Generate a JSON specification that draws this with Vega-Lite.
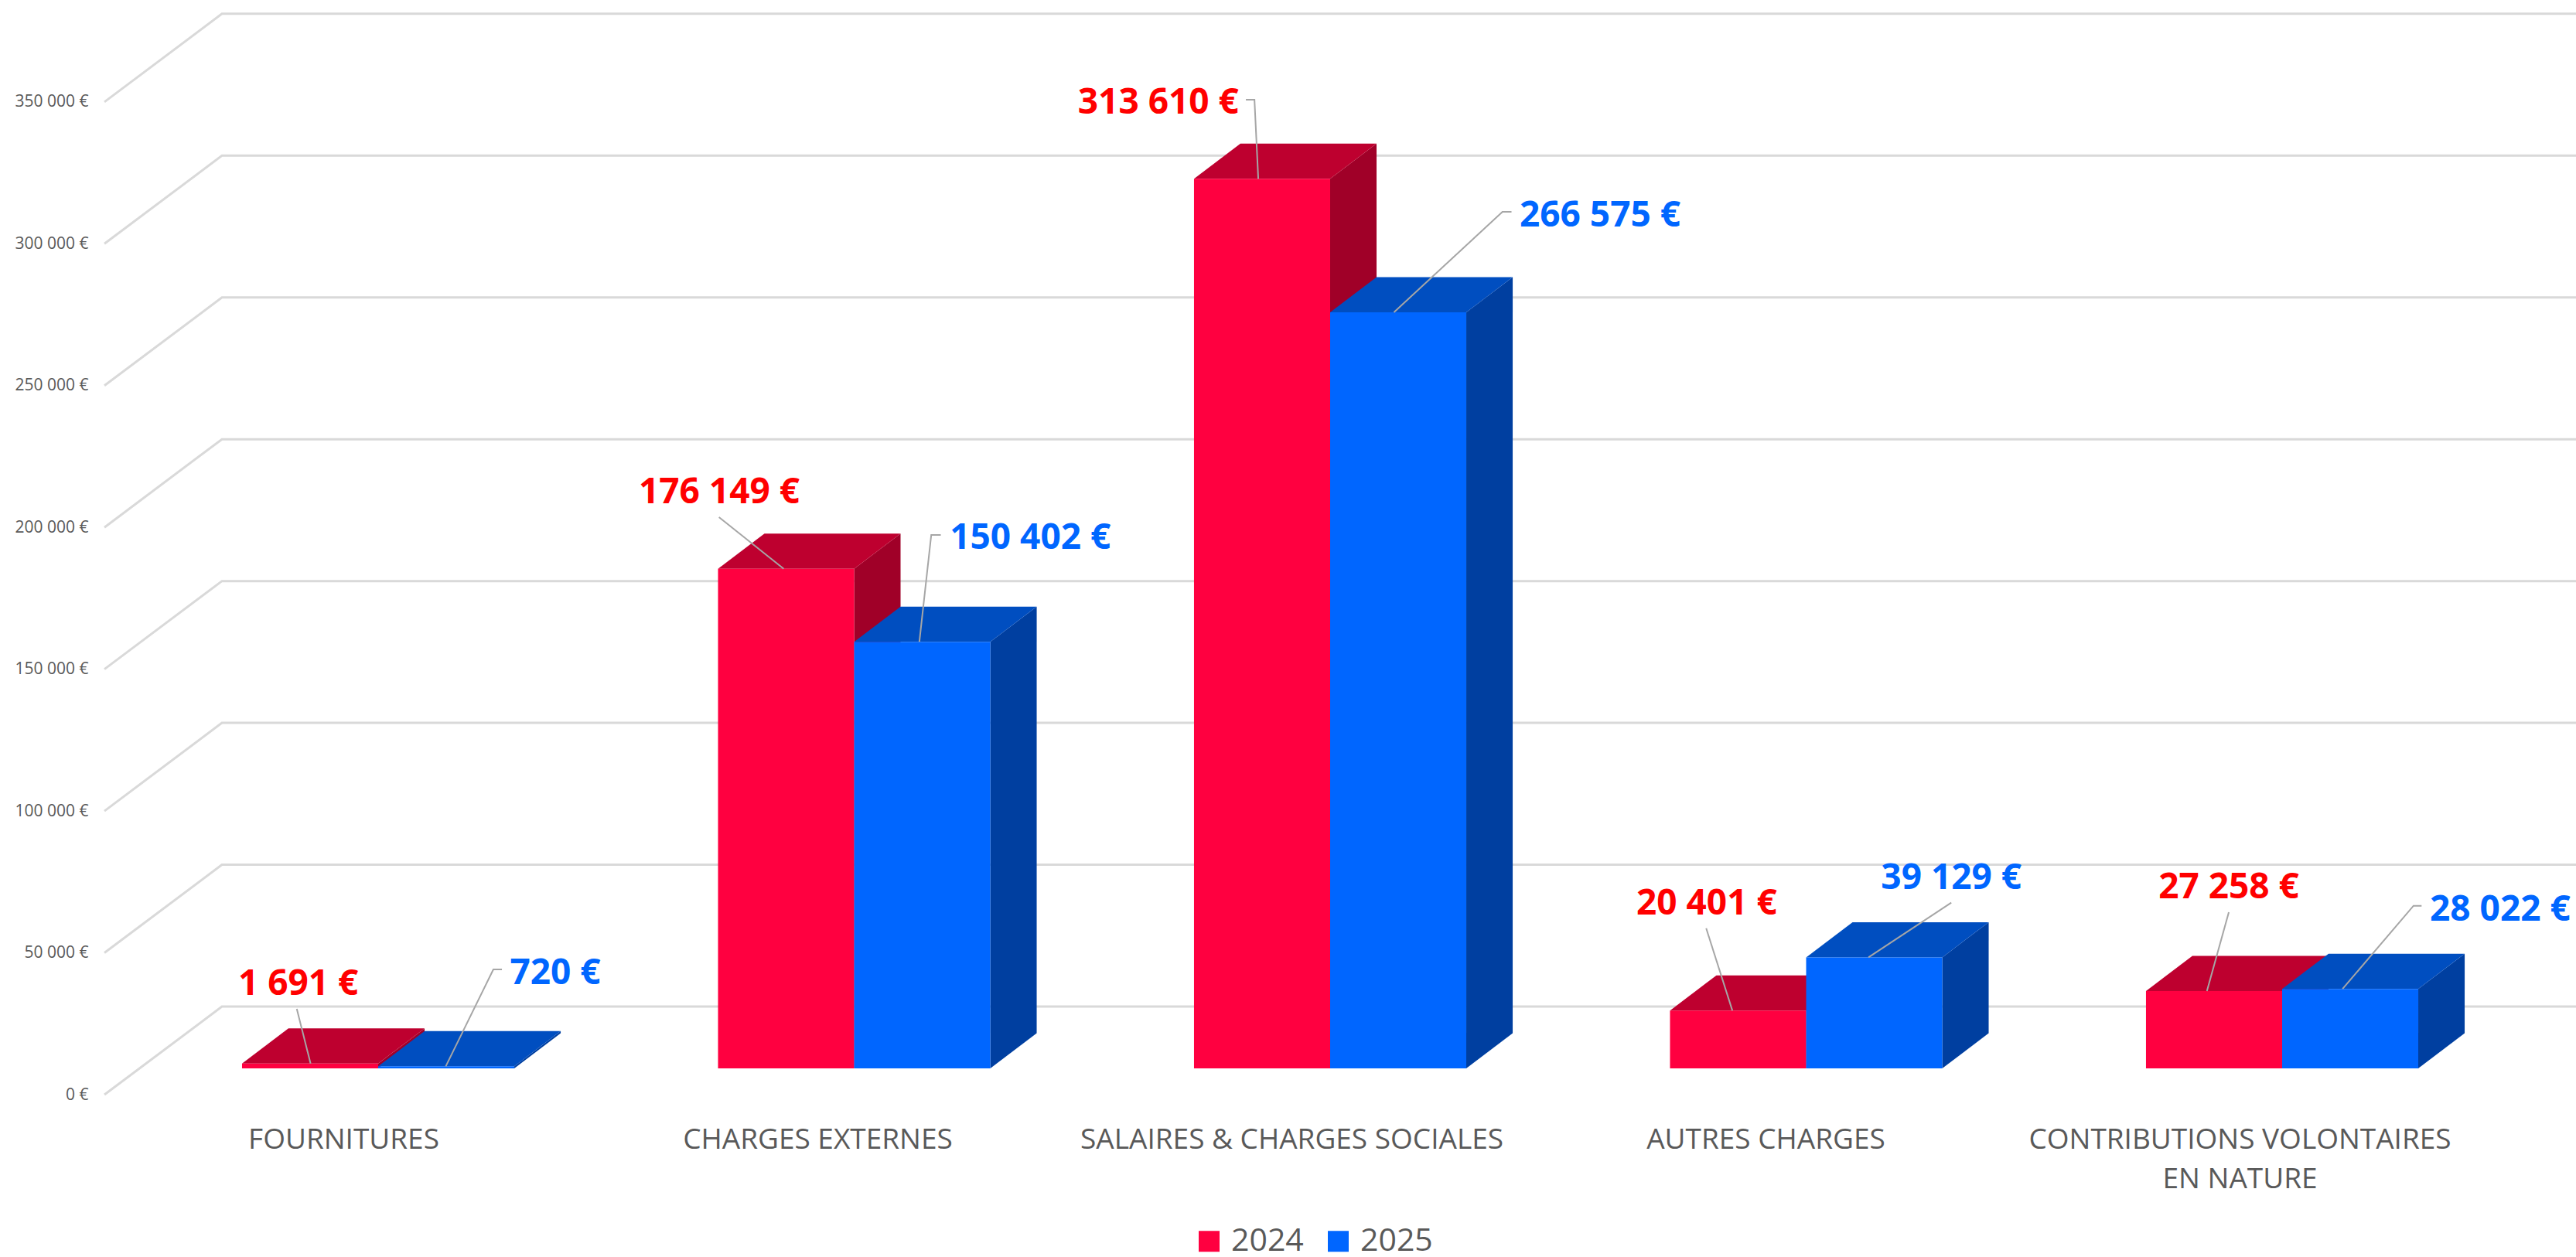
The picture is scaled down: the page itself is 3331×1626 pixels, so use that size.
{
"$schema":"https://vega.github.io/schema/vega-lite/v6.json",
"width":3206,"height":1416,"padding":{"left":125,"top":0,"right":0,"bottom":210},
"autosize":{"type":"none"},
"background":"white",
"config":{"view":{"stroke":null},"font":"Open Sans","axis":{"grid":false,"domain":false,"ticks":false}},
"datasets":{
"bars":[
{"category":"FOURNITURES","series":"2024","value":1691},
{"category":"FOURNITURES","series":"2025","value":720},
{"category":"CHARGES EXTERNES","series":"2024","value":176149},
{"category":"CHARGES EXTERNES","series":"2025","value":150402},
{"category":"SALAIRES & CHARGES SOCIALES","series":"2024","value":313610},
{"category":"SALAIRES & CHARGES SOCIALES","series":"2025","value":266575},
{"category":"AUTRES CHARGES","series":"2024","value":20401},
{"category":"AUTRES CHARGES","series":"2025","value":39129},
{"category":"CONTRIBUTIONS VOLONTAIRES EN NATURE","series":"2024","value":27258},
{"category":"CONTRIBUTIONS VOLONTAIRES EN NATURE","series":"2025","value":28022}
],
"ticks":[{"tick":0},{"tick":50000},{"tick":100000},{"tick":150000},{"tick":200000},{"tick":250000},{"tick":300000},{"tick":350000}]
},
"data":{"name":"bars"},
"transform":[
{"calculate":"indexof(['FOURNITURES','CHARGES EXTERNES','SALAIRES & CHARGES SOCIALES','AUTRES CHARGES','CONTRIBUTIONS VOLONTAIRES EN NATURE'],datum.category)","as":"i"},
{"calculate":"datum.i*2+(datum.series==='2025'?1:0)","as":"k"},
{"calculate":"datum.i+(datum.series==='2024'?-0.286:0)","as":"left"},
{"calculate":"datum.left+0.286","as":"right"},
{"calculate":"9270","as":"ybase"},
{"calculate":"datum.value+9270","as":"ytop"},
{"calculate":"[[-0.142,-0.171,30253,-0.171,30253,-0.168,39792],[0.142,0.242,44153,0.26,44153,0.372,43608],[0.852,0.716,203595,0.716,203595,0.7165,213134],[1.137,1.162,197326,1.182,197326,1.37,197054],[1.849,1.841,350772,1.823,350772,1.639,350499],[2.134,2.362,311252,2.381,311252,2.567,310707],[2.845,2.79,58680,2.79,58680,2.791,68138],[3.131,3.305,67674,3.305,67674,3.305,77132],[3.842,3.888,64322,3.888,64322,3.888,73861],[4.127,4.276,66584,4.293,66584,4.458,65957]][datum.k]","as":"ann"},
{"calculate":"replace(format(datum.value,','),',',' ')+' €'","as":"txt"}
],
"layer":[
{"data":{"name":"ticks"},
 "transform":[
 {"calculate":"[-0.5751,-0.3282,4.6174]","as":"xs"},
 {"calculate":"[datum.tick,datum.tick+31070,datum.tick+31070]","as":"ys"},
 {"flatten":["xs","ys"],"as":["gx","gy"]}],
 "mark":{"type":"line","stroke":"#D9D9D9","strokeWidth":3},
 "encoding":{
  "detail":{"field":"tick","type":"quantitative"},
  "x":{"field":"gx","type":"quantitative","scale":{"domain":[-0.5914,4.6174],"nice":false,"zero":false},
   "axis":{"title":null,"values":[-0.0731,0.9228,1.9188,2.9147,3.9107],
    "labelExpr":"['FOURNITURES','CHARGES EXTERNES','SALAIRES & CHARGES SOCIALES','AUTRES CHARGES',['CONTRIBUTIONS VOLONTAIRES','EN NATURE']][round(datum.value+0.08)]",
    "labelFont":"Open Sans","labelFontSize":37,"labelColor":"#595959","labelPadding":40,"labelLineHeight":51,"labelLimit":1200,"labelOverlap":false,"labelFlush":false,"labelBound":false,"labelAngle":0}},
  "y":{"field":"gy","type":"quantitative","scale":{"domain":[0,385936],"nice":false,"zero":false},
   "axis":{"title":null,"values":[0,50000,100000,150000,200000,250000,300000,350000],
    "labelExpr":"replace(format(datum.value,','),',',' ')+' €'",
    "labelFont":"Open Sans","labelFontSize":21,"labelColor":"#595959","labelPadding":11,"labelOverlap":false,"labelFlush":false,"labelBound":false}}
 }},
{"transform":[
 {"calculate":"[datum.right,datum.right+0.0975]","as":"xs"},
 {"calculate":"[datum.ybase,datum.ybase+12400]","as":"los"},
 {"calculate":"[datum.ytop,datum.ytop+12400]","as":"his"},
 {"flatten":["xs","los","his"],"as":["fx","fy","fy2"]}],
 "mark":{"type":"area","clip":false},
 "encoding":{
  "detail":{"field":"k","type":"quantitative"},
  "x":{"field":"fx","type":"quantitative","axis":{"title":null}},
  "y":{"field":"fy","type":"quantitative","axis":{"title":null},"stack":null},
  "y2":{"field":"fy2"},
  "fill":{"condition":{"test":"datum.series==='2024'","value":"#A00028"},"value":"#003FA0"}
 }},
{"transform":[
 {"calculate":"[datum.left,datum.left+0.0975,datum.right,datum.right+0.0975]","as":"xs"},
 {"calculate":"[datum.ytop,datum.ytop,datum.ytop,datum.ytop+12400]","as":"los"},
 {"calculate":"[datum.ytop,datum.ytop+12400,datum.ytop+12400,datum.ytop+12400]","as":"his"},
 {"flatten":["xs","los","his"],"as":["fx","fy","fy2"]}],
 "mark":{"type":"area","clip":false},
 "encoding":{
  "detail":{"field":"k","type":"quantitative"},
  "x":{"field":"fx","type":"quantitative","axis":{"title":null}},
  "y":{"field":"fy","type":"quantitative","axis":{"title":null},"stack":null},
  "y2":{"field":"fy2"},
  "fill":{"condition":{"test":"datum.series==='2024'","value":"#BE002F"},"value":"#004EC0"}
 }},
{"mark":{"type":"rect"},
 "encoding":{
  "x":{"field":"left","type":"quantitative","axis":{"title":null}},
  "x2":{"field":"right"},
  "y":{"field":"ybase","type":"quantitative","axis":{"title":null}},
  "y2":{"field":"ytop"},
  "color":{"field":"series","type":"nominal","scale":{"domain":["2024","2025"],"range":["#FF0040","#0066FF"]},
   "legend":{"title":null,"orient":"none","legendX":1418,"legendY":1585,"direction":"horizontal","padding":0,"symbolType":"square","symbolSize":729,"symbolStrokeWidth":0,"labelFont":"Open Sans","labelFontSize":41,"labelColor":"#595959","labelOffset":8,"columnPadding":24,"symbolOpacity":1}}
 }},
{"transform":[
 {"calculate":"datum.ann[1]===datum.ann[3]?[datum.ann[0],datum.ann[1]]:[datum.ann[0],datum.ann[1],datum.ann[3]]","as":"xs"},
 {"calculate":"datum.ann[1]===datum.ann[3]?[datum.ytop,datum.ann[2]]:[datum.ytop,datum.ann[2],datum.ann[4]]","as":"ys"},
 {"flatten":["xs","ys"],"as":["lx","ly"]}],
 "mark":{"type":"line","stroke":"#A6A6A6","strokeWidth":2},
 "encoding":{
  "detail":{"field":"k","type":"quantitative"},
  "x":{"field":"lx","type":"quantitative","axis":{"title":null}},
  "y":{"field":"ly","type":"quantitative","axis":{"title":null}}
 }},
{"transform":[
 {"calculate":"datum.ann[5]","as":"tx"},
 {"calculate":"datum.ann[6]","as":"ty"}],
 "mark":{"type":"text","font":"Open Sans","fontWeight":"bold","fontSize":46,"baseline":"middle","align":"center","dy":3},
 "encoding":{
  "x":{"field":"tx","type":"quantitative","axis":{"title":null}},
  "y":{"field":"ty","type":"quantitative","axis":{"title":null}},
  "text":{"field":"txt","type":"nominal"},
  "fill":{"condition":{"test":"datum.series==='2024'","value":"#FF0000"},"value":"#0066FF"}
 }}
]
}
